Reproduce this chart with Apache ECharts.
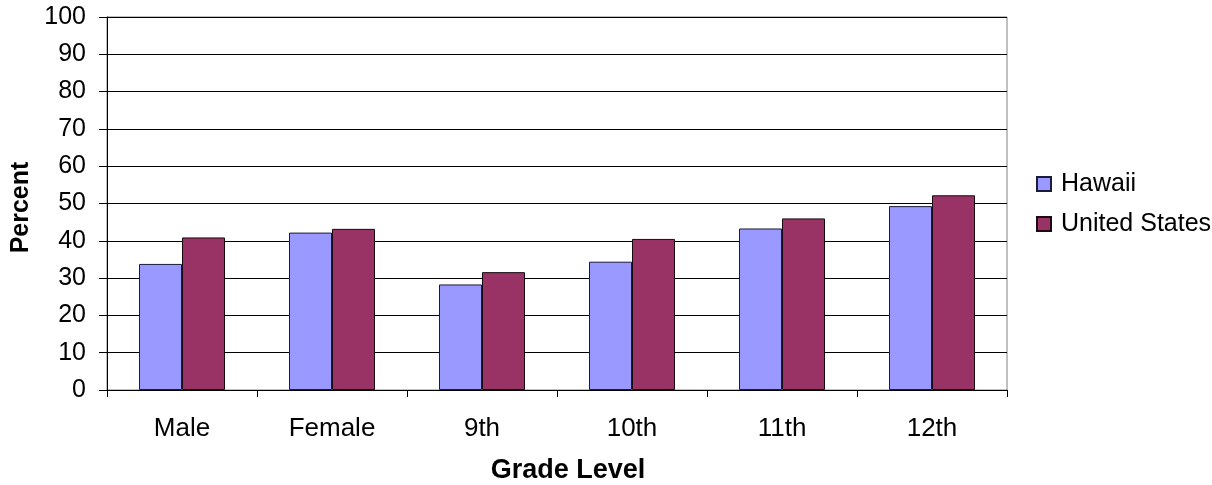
<!DOCTYPE html>
<html>
<head>
<meta charset="utf-8">
<script src="https://cdn.jsdelivr.net/npm/echarts@6/dist/echarts.min.js"></script>
<style>
html,body{margin:0;padding:0;background:#fff;}
#chart{width:1212px;height:485px;}
</style>
</head>
<body>
<div id="chart"></div>
<script>
const categories = ['Male', 'Female', '9th', '10th', '11th', '12th'];
const hawaii = [33.8, 42.2, 28.3, 34.4, 43.3, 49.3];
const unitedStates = [40.9, 43.2, 31.6, 40.5, 46.0, 52.2];
const seriesNames = ['Hawaii', 'United States'];
const yTitle = 'Percent';
const xTitle = 'Grade Level';

const font = 'Liberation Sans, Arial, sans-serif';
const chart = echarts.init(document.getElementById('chart'));
chart.setOption({
  animation: false,
  backgroundColor: '#fff',
  textStyle: { fontFamily: font },
  grid: { left: 107, top: 17, width: 900, height: 373, outerBoundsMode: 'none', containLabel: false, show: true, borderColor: '#808080', borderWidth: 1, backgroundColor: 'transparent' },
  legend: {
    orient: 'vertical',
    left: 1036, top: 171,
    padding: 0,
    itemWidth: 14, itemHeight: 14, itemGap: 14,
    icon: 'rect',
    textStyle: { fontSize: 25, color: '#000', fontFamily: font, lineHeight: 26, padding: [0, 0, 0, 5] },
    data: seriesNames
  },
  xAxis: {
    type: 'category',
    data: categories,
    boundaryGap: true,
    name: xTitle,
    nameLocation: 'middle',
    nameGap: 67,
    nameTextStyle: { fontSize: 27, fontWeight: 'bold', color: '#000', fontFamily: font, padding: [0, 0, 0, 22] },
    axisLine: { lineStyle: { color: '#000', width: 1 } },
    axisTick: { show: true, length: 7, alignWithLabel: false, lineStyle: { color: '#000' } },
    axisLabel: { fontSize: 26, color: '#000', margin: 26, fontFamily: font },
    splitLine: { show: false }
  },
  yAxis: {
    type: 'value',
    min: 0, max: 100, interval: 10,
    name: yTitle,
    nameLocation: 'middle',
    nameGap: 70,
    nameRotate: 90,
    nameTextStyle: { fontSize: 25, fontWeight: 'bold', color: '#000', fontFamily: font, padding: [0, 8, 0, 0] },
    axisLine: { show: true, lineStyle: { color: '#000', width: 1 } },
    axisTick: { show: true, length: 8, lineStyle: { color: '#000' } },
    axisLabel: { fontSize: 25, color: '#000', margin: 21, fontFamily: font },
    splitLine: { show: true, lineStyle: { color: '#000', width: 1 } }
  },
  series: [
    {
      name: seriesNames[0], type: 'bar', data: hawaii,
      barWidth: 43, barGap: '0%',
      itemStyle: { color: '#9999FF', borderColor: '#1a1a3a', borderWidth: 1 }
    },
    {
      name: seriesNames[1], type: 'bar', data: unitedStates,
      barWidth: 43, barGap: '0%',
      itemStyle: { color: '#993366', borderColor: '#1a0a12', borderWidth: 1 }
    }
  ]
});
</script>
</body>
</html>
